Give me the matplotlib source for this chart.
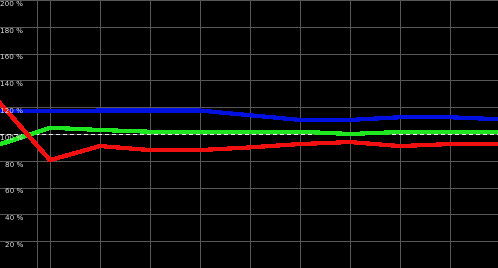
import matplotlib
matplotlib.use("Agg")
import matplotlib.pyplot as plt

# valores (porcentaje por punto)
puntos = [0, 1, 2, 3, 4, 5, 6, 7, 8, 9, 10]
azul = [117, 117, 117.5, 117.5, 117.5, 114, 110.5, 110.5, 112.5, 112.5, 111]
verde = [92.3, 104.7, 103, 101.7, 101.7, 101.7, 101.7, 100, 101.5, 101.5, 101.5]
rojo = [123, 80.5, 91, 88, 88, 90, 92.5, 94, 91, 92.5, 92.5]
niveles = [20, 40, 60, 80, 100, 120, 140, 160, 180, 200]
etiquetas = [f"{n} %" for n in niveles]

fig = plt.figure(figsize=(4.98, 2.68), dpi=100)
fig.patch.set_facecolor("black")
ax = fig.add_axes([0, 0, 1, 1])
ax.set_facecolor("black")

ax.set_xlim(0, 9.96)
ax.set_ylim(0, 200)

# rejilla (1 px)
for n in [0] + niveles:
    ax.axhline(n, color="#575757", lw=0.72, zorder=1, antialiased=False)
for p in puntos[1:10]:
    ax.axvline(p, color="#575757", lw=0.72, zorder=1, antialiased=False)
ax.axvline(0.745, color="#575757", lw=0.72, zorder=1, antialiased=False)

# linea de referencia 100 %
ax.axhline(100, color="#e8e8e8", lw=0.72, ls=(0, (4, 3)), zorder=2,
           antialiased=False)

ax.plot(puntos, azul, color="#0010e0", lw=2.3, zorder=3, antialiased=False)
ax.plot(puntos, verde, color="#20e820", lw=2.3, zorder=3, antialiased=False)
ax.plot(puntos, rojo, color="#f01010", lw=2.3, zorder=4, antialiased=False)

for n, t in zip(niveles, etiquetas):
    ax.text(0.46, n - 0.6, t, color="#e0e0e0", fontsize=5.2,
            ha="right", va="top", zorder=5)

ax.axis("off")
fig.savefig("out.png", dpi=100, facecolor="black")
